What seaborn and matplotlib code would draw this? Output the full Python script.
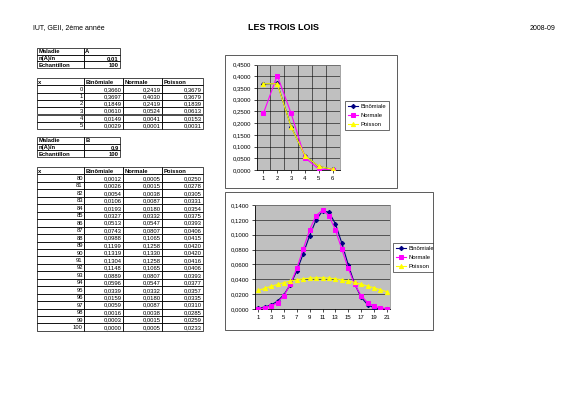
import matplotlib
matplotlib.use("Agg")
import matplotlib.pyplot as plt
import pandas as pd
import seaborn as sns
from matplotlib.patches import Rectangle

# data
x_a = [0, 1, 2, 3, 4, 5]
binom_a = [0.3660, 0.3697, 0.1849, 0.0610, 0.0149, 0.0029]
normal_a = [0.2419, 0.4030, 0.2419, 0.0524, 0.0041, 0.0001]
poisson_a = [0.3679, 0.3679, 0.1839, 0.0613, 0.0153, 0.0031]

x_b = list(range(80, 101))
binom_b = [0.0012, 0.0026, 0.0054, 0.0106, 0.0193, 0.0327, 0.0513, 0.0743, 0.0988, 0.1199,
           0.1319, 0.1304, 0.1148, 0.0889, 0.0596, 0.0339, 0.0159, 0.0059, 0.0016, 0.0003, 0.0000]
normal_b = [0.0005, 0.0015, 0.0038, 0.0087, 0.0180, 0.0332, 0.0547, 0.0807, 0.1065, 0.1258,
            0.1330, 0.1258, 0.1065, 0.0807, 0.0547, 0.0332, 0.0180, 0.0087, 0.0038, 0.0015, 0.0005]
poisson_b = [0.0250, 0.0278, 0.0305, 0.0331, 0.0354, 0.0375, 0.0393, 0.0406, 0.0415, 0.0420,
             0.0420, 0.0416, 0.0406, 0.0393, 0.0377, 0.0357, 0.0335, 0.0310, 0.0285, 0.0259, 0.0233]

series_names = ["Binômiale", "Normale", "Poisson"]
params_a = [["Maladie", "A"], ["n(A)/n", "0,01"], ["Echantillon", "100"]]
params_b = [["Maladie", "B"], ["n(A)/n", "0,9"], ["Echantillon", "100"]]

plt.rcParams['font.family'] = ['Liberation Sans', 'DejaVu Sans']

W, H = 566, 400
fig = plt.figure(figsize=(W / 100, H / 100), dpi=100)
fig.patch.set_facecolor('white')

bg = fig.add_axes([0, 0, 1, 1])
bg.set_xlim(0, W)
bg.set_ylim(H, 0)
bg.axis('off')


def fmt(v):
    return f"{v:.4f}".replace('.', ',')


def draw_table(rows, x0, y0, widths, rh, bold_rows=(), bold_all=False):
    for i, row in enumerate(rows):
        x = x0
        for j, cell in enumerate(row):
            w = widths[j]
            bg.add_patch(Rectangle((x, y0 + i * rh), w, rh, fill=False, lw=0.5, ec='black'))
            is_num = cell.replace(',', '').isdigit() and not (i in bold_rows)
            bold = bold_all or i in bold_rows
            if is_num:
                bg.text(x + w - 1.2, y0 + (i + 0.55) * rh, cell, ha='right', va='center',
                        fontsize=4.2, fontweight='bold' if bold else 'normal')
            else:
                bg.text(x + 1.2, y0 + (i + 0.55) * rh, cell, ha='left', va='center',
                        fontsize=4.2, fontweight='bold' if bold else 'normal')
            x += w


# header
bg.text(33, 28, "IUT, GEII, 2ème année", fontsize=5, va='center')
bg.text(283, 28, "LES TROIS LOIS", fontsize=6.5, fontweight='bold', ha='center', va='center')
bg.text(555, 28, "2008-09", fontsize=5, ha='right', va='center')

# tables
draw_table(params_a, 37, 48, [47, 36], 6.7, bold_all=True)
rows_a = [["x"] + series_names] + [[str(x_a[k]), fmt(binom_a[k]), fmt(normal_a[k]), fmt(poisson_a[k])]
                                   for k in range(len(x_a))]
draw_table(rows_a, 37, 78, [47, 39, 39, 41], 7.3, bold_rows=(0,))
draw_table(params_b, 37, 137, [47, 36], 6.7, bold_all=True)
rows_b = [["x"] + series_names] + [[str(x_b[k]), fmt(binom_b[k]), fmt(normal_b[k]), fmt(poisson_b[k])]
                                   for k in range(len(x_b))]
draw_table(rows_b, 37, 167, [47, 39, 39, 41], 7.45, bold_rows=(0,))

colors = ["#000080", "#FF00FF", "#FFFF00"]
markers = ["D", "s", "^"]
msizes = [2.2, 2.6, 3.0]


def px_axes(x0, y0, x1, y1):
    return fig.add_axes([x0 / W, 1 - y1 / H, (x1 - x0) / W, (y1 - y0) / H])


def style_axes(ax):
    ax.set_facecolor('#C0C0C0')
    for s in ['top', 'right']:
        ax.spines[s].set_color('#808080')
        ax.spines[s].set_linewidth(0.5)
    for s in ['left', 'bottom']:
        ax.spines[s].set_color('black')
        ax.spines[s].set_linewidth(0.6)
    ax.tick_params(labelsize=4.3, length=2, width=0.5, pad=2)
    ax.set_xlabel("")
    ax.set_ylabel("")
    ax.yaxis.set_major_formatter(plt.FuncFormatter(lambda v, p: fmt(v)))


def plot_series(ax, xs, series):
    for name, ys, c, m, ms in zip(series_names, series, colors, markers, msizes):
        sns.lineplot(x=xs, y=ys, ax=ax, color=c, marker=m, markersize=ms, lw=0.8,
                     markeredgecolor=c, label=name, zorder=3)


leg_kw = dict(loc='upper left', fontsize=4.2, frameon=True, fancybox=False, edgecolor='#303030',
              framealpha=1, handlelength=1.8, borderpad=0.5, labelspacing=0.7,
              handletextpad=0.3, borderaxespad=0)

# top chart
ax1 = px_axes(256.5, 64.5, 339.5, 170)
pos_a = [k + 1 for k in range(len(x_a))]
plot_series(ax1, pos_a, [binom_a, normal_a, poisson_a])
ax1.set_xlim(0.5, 6.5)
ax1.set_ylim(0, 0.45)
ax1.set_yticks([k * 0.05 for k in range(10)])
ax1.set_xticks(pos_a)
for k in range(6):
    ax1.axvline(k + 1.5, color='black', lw=0.4, zorder=1)
ax1.yaxis.grid(True, color='black', lw=0.4, zorder=1)
ax1.set_axisbelow(True)
style_axes(ax1)
h, l = ax1.get_legend_handles_labels()
ax1.get_legend().remove()
leg1 = fig.legend(h, l, bbox_to_anchor=(345 / W, 1 - 101 / H), **leg_kw)
leg1.get_frame().set_linewidth(0.5)

# bottom chart
ax2 = px_axes(255, 205, 390, 309)
pos_b = [k + 1 for k in range(len(x_b))]
plot_series(ax2, pos_b, [binom_b, normal_b, poisson_b])
ax2.set_xlim(0.5, 21.5)
ax2.set_ylim(0, 0.14)
ax2.set_yticks([k * 0.02 for k in range(8)])
ax2.set_xticks(list(range(1, 22, 2)))
ax2.yaxis.grid(True, color='black', lw=0.4, zorder=1)
ax2.set_axisbelow(True)
style_axes(ax2)
h, l = ax2.get_legend_handles_labels()
ax2.get_legend().remove()
leg2 = fig.legend(h, l, bbox_to_anchor=(393 / W, 1 - 243 / H), **leg_kw)
leg2.get_frame().set_linewidth(0.5)

# chart frames; the second one clips its legend at the right edge
fig.patches.append(Rectangle((434 / W, 1 - 280 / H), 20 / W, 45 / H, transform=fig.transFigure,
                             fc='white', ec='none', zorder=10))
fig.patches.append(Rectangle((225 / W, 1 - 188 / H), 172 / W, 133 / H, transform=fig.transFigure,
                             fill=False, lw=0.6, ec='#404040', zorder=11))
fig.patches.append(Rectangle((225 / W, 1 - 330 / H), 208 / W, 138 / H, transform=fig.transFigure,
                             fill=False, lw=0.6, ec='#404040', zorder=11))

fig.savefig("out.png", dpi=100)
